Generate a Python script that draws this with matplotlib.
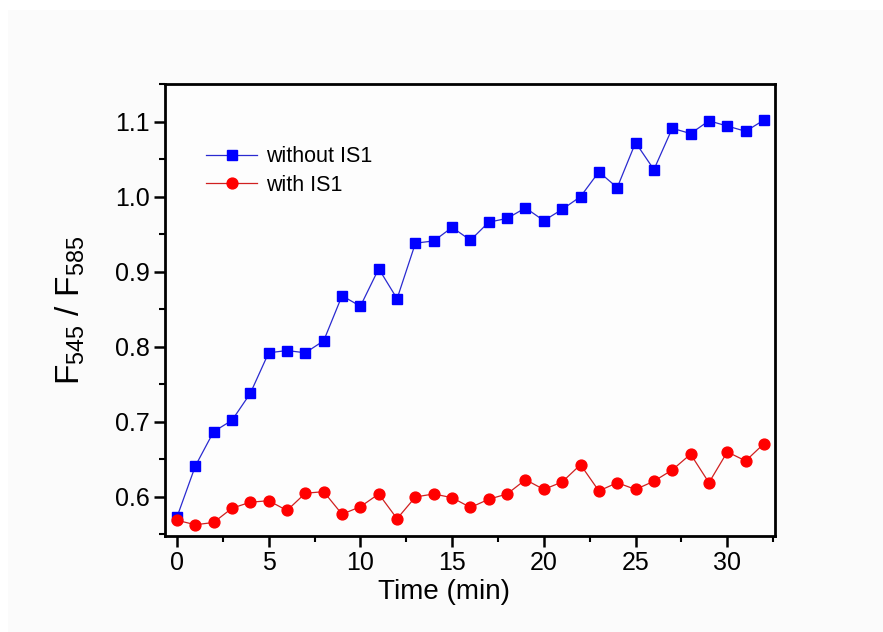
import matplotlib
matplotlib.use("Agg")
import matplotlib.pyplot as plt
from matplotlib.patches import Rectangle
from matplotlib.ticker import MultipleLocator

# ratio F545/F585 over time, sampled every minute
time_min = list(range(33))
without_is1 = [0.573, 0.641, 0.687, 0.702, 0.738, 0.792, 0.795, 0.792, 0.808, 0.868,
               0.854, 0.904, 0.864, 0.938, 0.941, 0.959, 0.942, 0.966, 0.971, 0.985,
               0.968, 0.983, 1.000, 1.033, 1.012, 1.072, 1.036, 1.091, 1.084, 1.101,
               1.094, 1.087, 1.102]
with_is1 = [0.569, 0.563, 0.566, 0.585, 0.593, 0.595, 0.582, 0.605, 0.607, 0.577,
            0.587, 0.604, 0.571, 0.600, 0.604, 0.599, 0.586, 0.597, 0.604, 0.623,
            0.610, 0.620, 0.643, 0.608, 0.619, 0.610, 0.621, 0.636, 0.657, 0.619,
            0.660, 0.648, 0.671]

plt.rcParams['font.family'] = ['Liberation Sans', 'DejaVu Sans']
plt.rcParams['mathtext.fontset'] = 'custom'
plt.rcParams['mathtext.rm'] = 'Liberation Sans'
plt.rcParams['mathtext.it'] = 'Liberation Sans'

fig = plt.figure(figsize=(8.83, 6.32), dpi=100)
fig.patch.set_facecolor('white')
fig.patches.append(Rectangle((8 / 883, 0), 1, 1 - 10 / 632, transform=fig.transFigure,
                             facecolor='#fbfbfb', edgecolor='none', zorder=-10))

ax = fig.add_axes([165 / 883, 1 - 536 / 632, 610 / 883, 452 / 632])
ax.set_facecolor('#fdfdfd')

ax.plot(time_min, without_is1, color='#2a2ad0', lw=0.9, marker='s', ms=7.2,
        mfc='#0000ff', mec='#0000ff', label='without IS1', zorder=3)
ax.plot(time_min, with_is1, color='#d02020', lw=0.9, marker='o', ms=7.8,
        mfc='#ff0000', mec='#ff0000', label='with IS1', zorder=4)

ax.set_xlim(-0.65, 32.6)
ax.set_ylim(0.548, 1.15)
ax.xaxis.set_major_locator(MultipleLocator(5))
ax.xaxis.set_minor_locator(MultipleLocator(2.5))
ax.yaxis.set_major_locator(MultipleLocator(0.1))
ax.yaxis.set_minor_locator(MultipleLocator(0.05))

for s in ax.spines.values():
    s.set_linewidth(2.0)
ax.tick_params(which='major', direction='out', length=8, width=1.8, labelsize=18, pad=3)
ax.tick_params(which='minor', direction='out', length=4.5, width=1.5)

ax.set_xlabel('Time (min)', fontsize=20)
ax.xaxis.set_label_coords(0.457, -0.095)
ax.set_ylabel(r'F$_{545}$ / F$_{585}$', fontsize=24)
ax.yaxis.set_label_coords(-0.128, 0.5)

leg = ax.legend(loc='upper left', bbox_to_anchor=(0.035, 0.905), frameon=False,
                fontsize=15.5, handlelength=2.4, handletextpad=0.4, labelspacing=0.35)

fig.savefig('out.png', dpi=100, facecolor=fig.get_facecolor())
